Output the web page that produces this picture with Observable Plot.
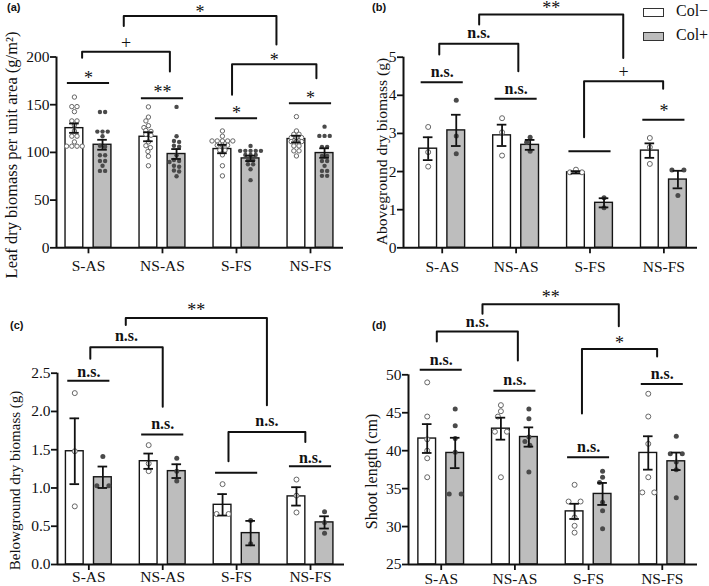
<!DOCTYPE html>
<html><head><meta charset="utf-8">
<script src="https://cdn.jsdelivr.net/npm/d3@7"></script>
<script src="https://cdn.jsdelivr.net/npm/@observablehq/plot@0.6"></script>
<style>
body{margin:0;background:#fff;}
#root{position:relative;width:709px;height:586px;overflow:hidden;background:#fff;color:#111;font-family:"Liberation Serif","Times New Roman",serif;}
.panel{position:absolute;}
.panel svg{display:block;}
#root svg text, #root svg g{font-family:"Liberation Serif","Times New Roman",serif !important;}
.plab{position:absolute;font:bold 11px "Liberation Sans",Arial,sans-serif;line-height:1;color:#111;}
.leg{position:absolute;font:16px "Liberation Serif","Times New Roman",serif;line-height:1;color:#111;}
.box{position:absolute;width:19px;height:7px;border:1px solid #333;}
#root [aria-label*="axis"] line, #root [aria-label*="axis"] path{stroke-width:1.8px;}
</style></head>
<body><div id="root"></div>
<script>
const categories = ["S-AS","NS-AS","S-FS","NS-FS"];
const treatments = ["Col−","Col+"];

// (a) Leaf dry biomass per unit area (g/m2)
const leafMeanMinus = [125.4,116.4,103.5,114.0];
const leafMeanPlus  = [108.0,98.3,93.7,99.3];
const leafSeMinus   = [4.9,4.7,4.4,3.5];
const leafSePlus    = [5.2,5.2,2.8,5.0];
const leafPtsMinus = [
  [158,148,148,142.7,133,133,128.5,122.5,117,117,111,106.5,106.5,106.5,106.5],
  [147.7,137,133,128,126,123,122,119,118,111,107,105,101,96,86],
  [122.5,117,112,112,112,112,112,107.5,107.5,107.5,102.3,102.3,97.4,86,75.4],
  [137.5,122.5,119,119,115.5,115.5,115.5,111.3,111.3,111.3,106.8,106.8,101.6,101.6,96.3]];
const leafPtsPlus = [
  [142.4,142.4,121.8,121.8,121.8,117,107,106,97,97,91,91,86,80.6,80.6],
  [147.7,117,112,111,107,106,97,92,91,90,86,85,81,80,75],
  [106.8,101.6,101.6,101.6,101.6,101.6,97.4,97.4,97.4,91.8,91.8,87.6,87.6,82.4,70.9],
  [127,117.3,117.3,117.3,105.8,105.8,96.3,96.3,91,91,85.9,80.6,80.6,75.4,75.4]];
const leafPairs = [
  {cat:"S-AS",y:172.8,label:"*",ly:181.2},{cat:"NS-AS",y:156.8,label:"**",ly:166.2},
  {cat:"S-FS",y:135.9,label:"*",ly:144.3},{cat:"NS-FS",y:151.6,label:"*",ly:159.9}];
const leafBrackets = [
  {x1:-0.086,x2:1.10,y:205.6,y1:199.3,y2:184.7,label:"+",ly:213.9},
  {x1:0.477,x2:2.54,y:242.9,y1:232.4,y2:213.2,label:"*",ly:249.8},
  {x1:1.94,x2:3.08,y:192.3,y1:160.3,y2:177.7,label:"*",ly:199.3}];

// (b) Aboveground dry biomass (g)
const aboveMeanMinus = [2.60,2.95,1.98,2.55];
const aboveMeanPlus  = [3.08,2.70,1.18,1.79];
const aboveSeMinus   = [0.30,0.28,0.03,0.19];
const aboveSePlus    = [0.41,0.13,0.12,0.23];
const abovePtsMinus = [[3.17,2.51,2.13],[3.40,3.03,2.42],[2.05,1.98,1.98],[2.88,2.64,2.20]];
const abovePtsPlus  = [[3.87,2.93,2.47],[2.90,2.77,2.53],[1.31,1.05],[2.04,2.04,1.37]];
const abovePairs = [
  {cat:"S-AS",y:4.34,label:"n.s.",ly:4.58},{cat:"NS-AS",y:3.91,label:"n.s.",ly:4.14},
  {cat:"S-FS",y:2.53,label:"",ly:0},{cat:"NS-FS",y:3.36,label:"*",ly:3.65}];
const aboveBrackets = [
  {x1:-0.04,x2:1.03,y:5.35,y1:5.07,y2:4.63,label:"n.s.",ly:5.61},
  {x1:0.5,x2:2.45,y:6.12,y1:5.86,y2:4.98,label:"**",ly:6.36},
  {x1:1.92,x2:2.99,y:4.37,y1:2.90,y2:4.17,label:"+",ly:4.58}];

// (c) Belowground dry biomass (g)
const belowMeanMinus = [1.48,1.35,0.78,0.89];
const belowMeanPlus  = [1.14,1.22,0.41,0.55];
const belowSeMinus   = [0.43,0.10,0.14,0.12];
const belowSePlus    = [0.14,0.09,0.16,0.08];
const belowPtsMinus = [[2.24,1.48,0.76],[1.56,1.32,1.22],[1.05,0.66,0.66],[1.11,0.90,0.68]];
const belowPtsPlus  = [[1.41,1.03,1.03],[1.39,1.22,1.09],[0.575,0.27],[0.69,0.55,0.41]];
const belowPairs = [
  {cat:"S-AS",y:2.40,label:"n.s.",ly:2.51},{cat:"NS-AS",y:1.70,label:"n.s.",ly:1.825},
  {cat:"S-FS",y:1.20,label:"",ly:0},{cat:"NS-FS",y:1.285,label:"n.s.",ly:1.38}];
const belowBrackets = [
  {x1:0.02,x2:1.0,y:2.84,y1:2.69,y2:2.06,label:"n.s.",ly:2.97},
  {x1:0.5,x2:2.41,y:3.22,y1:3.13,y2:2.08,label:"**",ly:3.36},
  {x1:1.89,x2:2.93,y:1.73,y1:1.35,y2:1.60,label:"n.s.",ly:1.87}];

// (d) Shoot length (cm)
const shootMeanMinus = [41.6,42.9,32.0,39.7];
const shootMeanPlus  = [39.7,41.8,34.3,38.6];
const shootSeMinus   = [1.9,1.45,1.0,2.2];
const shootSePlus    = [2.0,1.27,1.45,1.15];
const shootPtsMinus = [[49.0,44.5,41.5,40.0,39.0,36.5],[46.0,45.2,44.5,42.5,42.5,36.5],[35.5,33.3,33.3,31.2,30.1,29.2],[47.5,44.5,40.9,36.5,34.5,34.5]];
const shootPtsPlus  = [[45.5,43.3,41.6,39.8,34.3,34.3],[45.5,44.2,41.8,41.2,40.7,37.2],[37.3,36.5,35.8,33.2,32.1,29.7],[41.9,39.6,39.6,38.5,37.5,33.8]];
const shootPairs = [
  {cat:"S-AS",y:50.66,label:"n.s.",ly:51.9},{cat:"NS-AS",y:47.9,label:"n.s.",ly:49.2},
  {cat:"S-FS",y:39.15,label:"n.s.",ly:40.4},{cat:"NS-FS",y:48.8,label:"n.s.",ly:50.0}];
const shootBrackets = [
  {x1:-0.06,x2:1.04,y:55.7,y1:54.4,y2:51.9,label:"n.s.",ly:56.85},
  {x1:0.56,x2:2.41,y:59.3,y1:58.04,y2:56.4,label:"**",ly:60.6},
  {x1:1.91,x2:2.93,y:53.4,y1:44.9,y2:52.4,label:"*",ly:54.5}];

const yLabels = ["Leaf dry biomass per unit area (g/m²)","Aboveground dry biomass (g)","Belowground dry biomass (g)","Shoot length (cm)"];
const panelLetters = ["(a)","(b)","(c)","(d)"];

// simple Prism-like scatter layout (rows for equal values, collision avoidance otherwise)
function swarm(vals, ky, spread, coll){
  const sorted = vals.slice().sort((a,b)=>b-a);
  const bins = [];
  for (const v of sorted){
    const last = bins[bins.length-1];
    if (last && Math.abs(last[0]-v)*ky < 1.5) last.push(v); else bins.push([v]);
  }
  const placed = [];
  for (const b of bins){
    if (b.length>1){ b.forEach((v,k)=>placed.push({v,dx:(k-(b.length-1)/2)*spread})); continue; }
    const v = b[0];
    for (let s=0; s<60; s+=0.5){
      const cands = s===0 ? [0] : [-s, s];
      let found = null;
      for (const dx of cands){
        if (placed.every(p => Math.hypot(p.dx-dx,(p.v-v)*ky) >= coll)){ found = dx; break; }
      }
      if (found!==null){ placed.push({v,dx:found}); break; }
    }
  }
  return placed;
}

const SERIF = '"Liberation Serif","Times New Roman",serif';

function buildPanel(cfg){
  const {W,H,ml,mr,mt,mb,xdom,ydom} = cfg;
  const kx = (W-ml-mr)/(xdom[1]-xdom[0]);
  const ky = (H-mt-mb)/(ydom[1]-ydom[0]);
  const OFF=0.19, HW=0.12, CAP=0.065, PAIR=0.285;
  const idx = c => categories.indexOf(c);
  const rows = (means, ses, sign) => categories.map((c,i)=>({i, x:i+sign*OFF, mean:means[i], se:ses[i]}));
  const minus = rows(cfg.meanMinus,cfg.seMinus,-1), plus = rows(cfg.meanPlus,cfg.sePlus,1);
  const all = minus.concat(plus);
  const dots = (pts, sign) => pts.flatMap((vals,i)=>swarm(vals,ky,cfg.spread,cfg.coll).map(p=>({x:i+sign*OFF+p.dx/kx, y:p.v})));
  const dMinus = dots(cfg.ptsMinus,-1), dPlus = dots(cfg.ptsPlus,1);
  const bracketPts = cfg.brackets.flatMap((b,k)=>[{k,x:b.x1,y:b.y1},{k,x:b.x1,y:b.y},{k,x:b.x2,y:b.y},{k,x:b.x2,y:b.y2}]);
  const labels = cfg.pairs.filter(p=>p.label).map(p=>({x:idx(p.cat),y:p.ly,label:p.label}))
    .concat(cfg.brackets.map(b=>({x:(b.x1+b.x2)/2,y:b.ly,label:b.label})));
  const stars = labels.filter(d=>d.label.startsWith("*"));
  const ns = labels.filter(d=>d.label==="n.s.");
  const pl = labels.filter(d=>d.label==="+");
  const stroke = "#111";
  const svg = Plot.plot({
    width:W, height:H, marginLeft:ml, marginRight:mr, marginTop:mt, marginBottom:mb,
    style:{fontFamily:SERIF, fontSize:"15.5px", color:"#111", background:"white", overflow:"hidden"},
    x:{domain:xdom, ticks:[0,1,2,3], tickFormat:i=>categories[i], tickSize:6, tickPadding:cfg.tpx, label:null},
    y:{domain:ydom, ticks:cfg.yticks, tickFormat:cfg.yfmt, tickSize:6, tickPadding:1, label:null},
    marks:[
      Plot.rect(minus,{x1:d=>d.x-HW,x2:d=>d.x+HW,y1:()=>ydom[0],y2:"mean",fill:"white",stroke:"#151515",strokeWidth:1.4}),
      Plot.rect(plus,{x1:d=>d.x-HW,x2:d=>d.x+HW,y1:()=>ydom[0],y2:"mean",fill:"#bdbdbd",stroke:"#151515",strokeWidth:1.4}),
      Plot.dot(dMinus,{x:"x",y:"y",r:cfg.r,fill:"white",stroke:"#666",strokeWidth:1}),
      Plot.dot(dPlus,{x:"x",y:"y",r:cfg.r,fill:"#4a4a4a"}),
      Plot.ruleX(all,{x:"x",y1:d=>d.mean-d.se,y2:d=>d.mean+d.se,stroke,strokeWidth:1.8}),
      Plot.ruleY(all,{y:d=>d.mean+d.se,x1:d=>d.x-CAP,x2:d=>d.x+CAP,stroke,strokeWidth:1.8}),
      Plot.ruleY(all,{y:d=>d.mean-d.se,x1:d=>d.x-CAP,x2:d=>d.x+CAP,stroke,strokeWidth:1.8}),
      Plot.ruleX([xdom[0]],{stroke,strokeWidth:2}),
      Plot.ruleY([ydom[0]],{stroke,strokeWidth:2}),
      Plot.ruleY(cfg.pairs,{y:"y",x1:p=>idx(p.cat)-PAIR,x2:p=>idx(p.cat)+PAIR,stroke,strokeWidth:2}),
      Plot.line(bracketPts,{x:"x",y:"y",z:"k",stroke,strokeWidth:2}),
      Plot.text(stars,{x:"x",y:"y",text:"label",fontSize:18,dy:3}),
      Plot.text(ns,{x:"x",y:"y",text:"label",fontSize:16,fontWeight:"bold",dy:-1}),
      Plot.text(pl,{x:"x",y:"y",text:"label",fontSize:18,dy:-1}),
      Plot.text([cfg.ylabel],{text:d=>d,frameAnchor:"left",textAnchor:"middle",lineAnchor:"middle",rotate:-90,dx:cfg.ldx,dy:cfg.ldy,fontSize:cfg.lfs})
    ]
  });
  svg.querySelectorAll("text, g").forEach(t => { t.style.fontFamily = SERIF; t.setAttribute("font-family", SERIF); });
  return svg;
}

const panels = [
  {left:0,top:0,W:354,H:290,ml:56,mr:11,mt:56.5,mb:42.7,xdom:[-0.432,3.446],ydom:[0,200],yticks:[0,50,100,150,200],yfmt:d=>d,tpx:5.9,
   meanMinus:leafMeanMinus,meanPlus:leafMeanPlus,seMinus:leafSeMinus,sePlus:leafSePlus,ptsMinus:leafPtsMinus,ptsPlus:leafPtsPlus,
   pairs:leafPairs,brackets:leafBrackets,spread:5.2,coll:4.5,r:2.2,ylabel:yLabels[0],ldx:-44.5,ldy:2.6,lfs:16.5},
  {left:354,top:0,W:355,H:290,ml:49,mr:12,mt:56.7,mb:42.7,xdom:[-0.524,3.455],ydom:[0,5],yticks:[0,1,2,3,4,5],yfmt:d=>d,tpx:7.6,
   meanMinus:aboveMeanMinus,meanPlus:aboveMeanPlus,seMinus:aboveSeMinus,sePlus:aboveSePlus,ptsMinus:abovePtsMinus,ptsPlus:abovePtsPlus,
   pairs:abovePairs,brackets:aboveBrackets,spread:12,coll:6,r:2.5,ylabel:yLabels[1],ldx:-21.5,ldy:-1,lfs:15.6},
  {left:0,top:290,W:354,H:296,ml:57,mr:10,mt:82.7,mb:22,xdom:[-0.424,3.46],ydom:[0,2.5],yticks:[0,0.5,1,1.5,2,2.5],yfmt:d3.format(".1f"),tpx:0.9,
   meanMinus:belowMeanMinus,meanPlus:belowMeanPlus,seMinus:belowSeMinus,sePlus:belowSePlus,ptsMinus:belowPtsMinus,ptsPlus:belowPtsPlus,
   pairs:belowPairs,brackets:belowBrackets,spread:12,coll:6,r:2.5,ylabel:yLabels[2],ldx:-42.5,ldy:11.6,lfs:15},
  {left:354,top:290,W:355,H:296,ml:54,mr:12,mt:84.3,mb:22,xdom:[-0.444,3.478],ydom:[25,50],yticks:[25,30,35,40,45,50],yfmt:d=>d,tpx:2.5,
   meanMinus:shootMeanMinus,meanPlus:shootMeanPlus,seMinus:shootSeMinus,sePlus:shootSePlus,ptsMinus:shootPtsMinus,ptsPlus:shootPtsPlus,
   pairs:shootPairs,brackets:shootBrackets,spread:12,coll:6,r:2.5,ylabel:yLabels[3],ldx:-37,ldy:1.8,lfs:16}
];

const root = document.getElementById("root");
panels.forEach((cfg,k)=>{
  const div = document.createElement("div");
  div.className = "panel";
  div.style.left = cfg.left+"px"; div.style.top = cfg.top+"px";
  div.appendChild(buildPanel(cfg));
  root.appendChild(div);
});
const letterPos = [[7,2],[372,2],[10,320],[372,320]];
panelLetters.forEach((t,k)=>{
  const d = document.createElement("div"); d.className="plab"; d.textContent=t;
  d.style.left=letterPos[k][0]+"px"; d.style.top=letterPos[k][1]+"px"; root.appendChild(d);
});
// legend
const legendColors = ["white","#bdbdbd"];
treatments.forEach((t,k)=>{
  const b = document.createElement("div"); b.className="box";
  b.style.left="643px"; b.style.top=(8+k*24)+"px"; b.style.background=legendColors[k]; root.appendChild(b);
  const l = document.createElement("div"); l.className="leg"; l.textContent=t;
  l.style.left="676px"; l.style.top=(3+k*24)+"px"; root.appendChild(l);
});
</script></body></html>
